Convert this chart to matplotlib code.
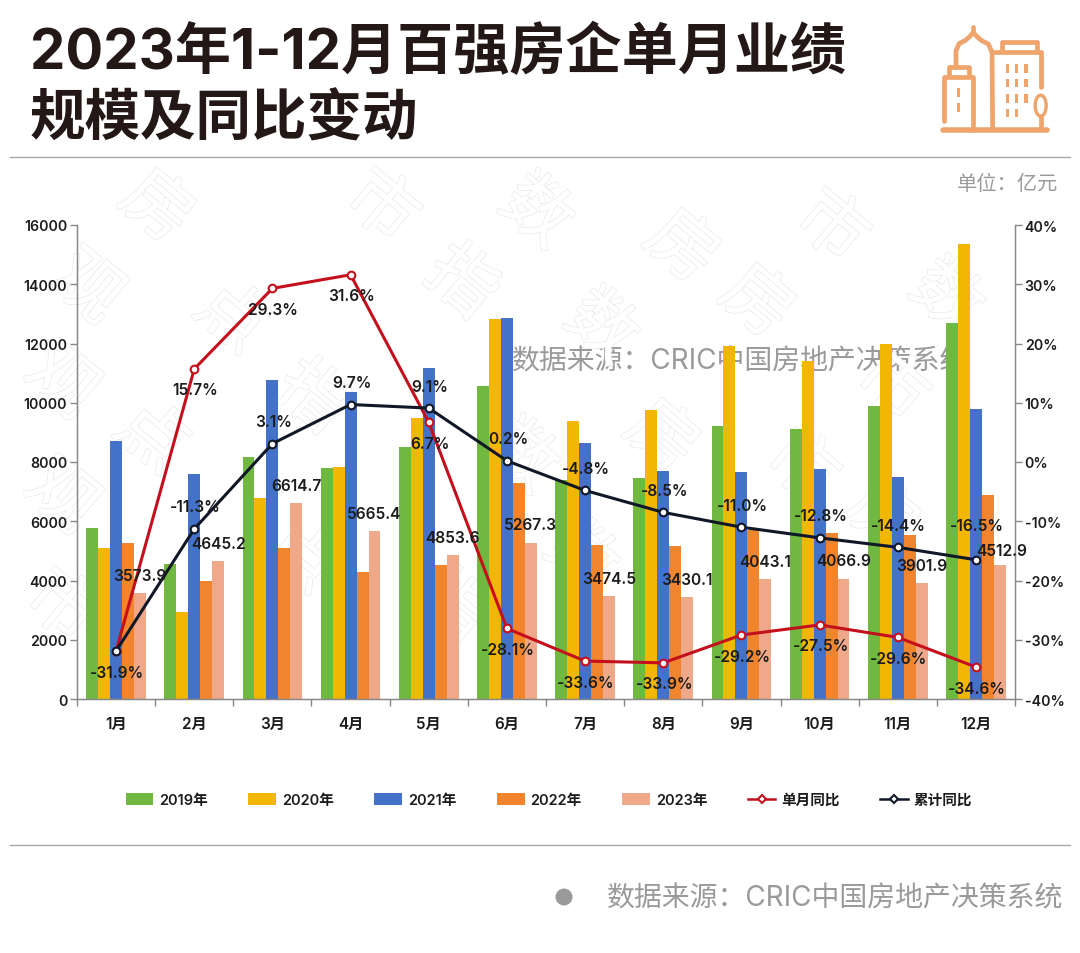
import matplotlib
matplotlib.use('Agg')
import matplotlib.pyplot as plt
import matplotlib.patheffects as pe
from matplotlib.patches import Rectangle, Ellipse, Circle
import numpy as np

plt.rcParams['font.family'] = ['Inter', 'Noto Sans CJK SC', 'DejaVu Sans']

months = ['1月','2月','3月','4月','5月','6月','7月','8月','9月','10月','11月','12月']
y2019 = [5780,4560,8180,7800,8520,10550,7400,7470,9200,9100,9880,12700]
y2020 = [5100,2950,6800,7830,9500,12820,9400,9760,11900,11400,12000,15350]
y2021 = [8700,7600,10780,10370,11170,12860,8650,7680,7650,7750,7500,9780]
y2022 = [5250,4000,5100,4300,4530,7300,5200,5150,5700,5600,5530,6880]
y2023 = [3573.9,4645.2,6614.7,5665.4,4853.6,5267.3,3474.5,3430.1,4043.1,4066.9,3901.9,4512.9]
single = [-31.9,15.7,29.3,31.6,6.7,-28.1,-33.6,-33.9,-29.2,-27.5,-29.6,-34.6]
cumul = [-31.9,-11.3,3.1,9.7,9.1,0.2,-4.8,-8.5,-11.0,-12.8,-14.4,-16.5]
series_names = ['2019年','2020年','2021年','2022年','2023年']
bar_colors = ['#70B83F','#F2B705','#4472C8','#F0852E','#EFA98A']
line_red = '#C4101C'
line_dark = '#101828'
ink = '#1c1c1c'
grey = '#9a9a9a'
W, H = 1080, 954

fig = plt.figure(figsize=(W/100, H/100), dpi=100, facecolor='white')

# page layer in pixel coordinates
bg = fig.add_axes([0,0,1,1], zorder=0)
bg.set_xlim(0,W); bg.set_ylim(H,0); bg.axis('off')

bg.text(30,53,'2023年1-12月百强房企单月业绩',fontsize=40.4,fontweight='bold',color='#231815',va='center',ha='left')
bg.text(30,120,'规模及同比变动',fontsize=40.0,fontweight='bold',color='#231815',va='center',ha='left')
bg.plot([10,1070],[158,158],color='#a8a8a8',lw=1)
bg.plot([10,1070],[846,846],color='#a8a8a8',lw=1)
bg.text(1058,184,'单位：亿元',fontsize=14.6,color=grey,ha='right',va='center')
bg.text(512,362,'数据来源：CRIC中国房地产决策系统',fontsize=20.1,color=grey,ha='left',va='center')
bg.text(607,899,'数据来源：CRIC中国房地产决策系统',fontsize=20.1,color=grey,ha='left',va='center')
bg.add_patch(Circle((564,898),8.5,color=grey,lw=0))

# watermark
wm = [('房',155,210),('市',380,210),('数',535,215),('房',680,250),('市',830,230),('数',945,300),
      ('观',85,290),('点',230,320),('指',460,285),('数',600,330),('房',755,305),('市',890,390),
      ('观',60,385),('点',150,440),('指',310,400),('数',520,460),('房',660,440),('市',800,470),
      ('观',60,500),('点',300,560),('指',450,610),('数',580,560),('房',880,520),('市',60,610)]
for ch,x,y in wm:
    bg.text(x,y,ch,fontsize=50,color='white',rotation=-40,ha='center',va='center',
            path_effects=[pe.withStroke(linewidth=1.3,foreground='#ebebeb'),pe.Normal()])

# icon
orange = '#EFA46C'
def ico(xs,ys,lw=3.4):
    bg.plot([920+x/3 for x in xs],[10+y/3 for y in ys],color=orange,lw=lw,solid_capstyle='round',solid_joinstyle='round')
ico([70,382],[362,362],4)
ico([72,72,160,160],[335,205,205,362])
ico([88,88,148,148],[200,175,175,200])
ico([108,108,118,135,150,160,170,185,205,216,218],[170,125,103,95,82,70,82,95,105,130,362])
ico([160,160],[55,70])
ico([222,362,362],[130,130,235])
ico([245,245,352,352],[125,100,100,125])
for wx,wy in [(262,178),(290,178),(318,178),(262,222),(290,222),(318,222),(262,268),(290,268),(318,268),(262,312),(290,312),(116,250),(116,295)]:
    bg.add_patch(Rectangle((920+(wx-5)/3,10+(wy-13)/3),10/3,26/3,color=orange,lw=0))
bg.add_patch(Ellipse((920+362/3,10+290/3),11,21,fc='white',ec=orange,lw=2.4))
ico([362,362],[320,360])

# chart
L,R,T,B = 77,1015,226,700
ax = fig.add_axes([L/W,1-B/H,(R-L)/W,(B-T)/H], zorder=2)
ax.patch.set_alpha(0)
x = np.arange(len(months))
bw = 0.153
values = [y2019,y2020,y2021,y2022,y2023]
handles = []
for i,(vals,c,n) in enumerate(zip(values,bar_colors,series_names)):
    handles.append(ax.bar(x+(i-2)*bw,vals,bw,color=c,label=n,lw=0))
ax.set_xlim(-0.5,len(months)-0.5)
ax.set_ylim(0,16000)
ax.set_yticks(np.arange(0,16001,2000))
ax.set_xticks(np.arange(-0.5,len(months)),minor=True)
ax.set_xticks(x)
ax.set_xticklabels(months)
tick_kw = dict(fontsize=10.2,fontweight='semibold',color=ink)
for t in ax.get_yticklabels():
    t.set(**tick_kw)
for t in ax.get_xticklabels():
    t.set(fontsize=11,fontweight='semibold',color=ink)
ax.tick_params(axis='x',which='major',length=0,pad=12)
ax.tick_params(axis='x',which='minor',length=5,width=1,color='#888888')
ax.tick_params(axis='y',length=5,width=1,color='#888888',pad=2)
ax.spines['top'].set_visible(False)
for s in ['left','bottom','right']:
    ax.spines[s].set_color('#888888'); ax.spines[s].set_linewidth(1)

ax2 = ax.twinx()
ax2.set_zorder(3); ax2.patch.set_alpha(0)
ax2.set_ylim(-40,40)
ax2.set_yticks(np.arange(-40,41,10))
ax2.set_yticklabels([f'{v}%' for v in np.arange(-40,41,10)])
for t in ax2.get_yticklabels():
    t.set(**tick_kw)
ax2.tick_params(axis='y',length=5,width=1,color='#888888',pad=2)
ax2.spines['top'].set_visible(False)
for s in ['left','bottom','right']:
    ax2.spines[s].set_color('#888888')

mk = dict(marker='o',markersize=5.5,markerfacecolor='white',markeredgewidth=1.5,lw=2.2)
l1, = ax2.plot(x,single,color=line_red,markeredgecolor=line_red,label='单月同比',**mk)
l2, = ax2.plot(x,cumul,color=line_dark,markeredgecolor=line_dark,label='累计同比',**mk)

lab = dict(fontsize=11.2,fontweight='semibold',color=ink,ha='center',va='center',zorder=10,textcoords='offset pixels')
bar_offsets = [(0,18)]*11+[(2,15)]
for xi,v,o in zip(x,y2023,bar_offsets):
    ax2.annotate(f'{v:.1f}',xy=(xi+2*bw,v),xycoords=ax.transData,xytext=o,**lab)
for xi,v in zip(x,single):
    ax2.annotate(f'{v:.1f}%',xy=(xi,v),xytext=(1,-21),**lab)
cum_offsets = [(1,22)]*10+[(1,34)]
for xi,v,o in zip(x[1:],cumul[1:],cum_offsets):
    ax2.annotate(f'{v:.1f}%',xy=(xi,v),xytext=o,**lab)

leg = fig.legend(handles=handles+[l1,l2],loc='center',bbox_to_anchor=(549/W,1-801/H),ncol=7,frameon=False,
                 prop={'size':10.5,'weight':'semibold'},handlelength=1.9,handleheight=0.8,handletextpad=0.4,columnspacing=2.78,labelcolor=ink)
for h in leg.legend_handles[5:]:
    h.set_marker('D'); h.set_markersize(4); h.set_linewidth(1.8)

fig.savefig('out.png',dpi=100,facecolor='white')
